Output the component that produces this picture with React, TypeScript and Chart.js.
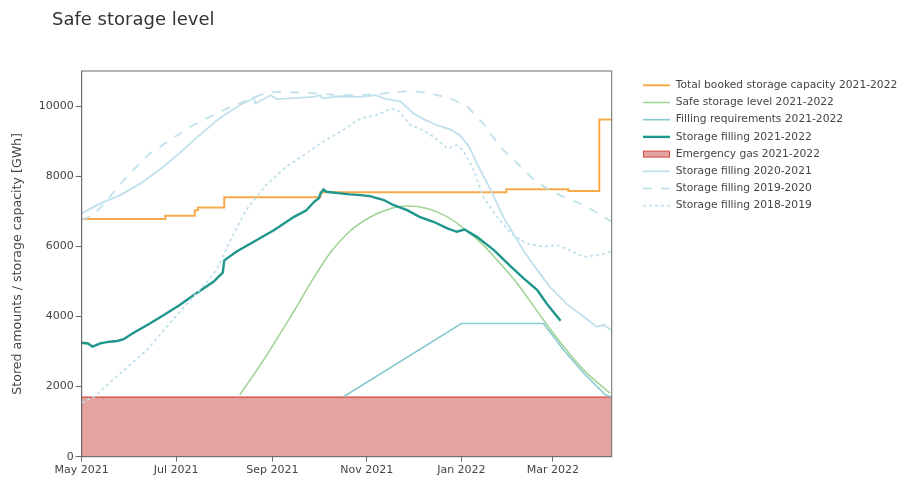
import { useEffect, useRef } from "react";
import { Chart, registerables } from "chart.js";

Chart.register(...registerables);

// ---- axis definitions (days since 1 May 2021) ----
const xTickDays = [0, 61, 123, 184, 245, 304];
const xTickLabels = ["May 2021", "Jul 2021", "Sep 2021", "Nov 2021", "Jan 2022", "Mar 2022"];
const yTickValues = [0, 2000, 4000, 6000, 8000, 10000];
const X_MIN = 0;
const X_MAX = 342;
const Y_MAX = 11000;

const chartTitle = "Safe storage level";
const yAxisTitle = "Stored amounts / storage capacity [GWh]";

// ---- series ----
const bookedDays = [0, 54, 73, 75, 92, 154, 274, 314, 334, 342];
const bookedValues = [6780, 6870, 7030, 7110, 7400, 7540, 7625, 7575, 9620, 9620];

const safeDays = [102, 119, 137, 150, 161, 173, 186, 199, 210, 223, 236, 248, 259, 270, 281, 298, 311, 324, 341];
const safeValues = [1760, 2870, 4150, 5120, 5850, 6430, 6830, 7070, 7150, 7080, 6840, 6460, 6040, 5510, 4940, 3900, 3140, 2470, 1810];

const reqDays = [169, 245, 298, 311, 324, 338, 342];
const reqValues = [1710, 3800, 3800, 3040, 2380, 1760, 1700];

const fill2122Days = [0, 4, 7, 12, 18, 23, 27, 33, 44, 53, 63, 74, 85, 91, 92, 100, 111, 124, 137, 145, 150, 153, 154, 156, 158, 167, 173, 180, 186, 195, 201, 210, 218, 227, 236, 242, 247, 255, 266, 277, 285, 294, 300, 309];
const fill2122Values = [3250, 3230, 3140, 3230, 3280, 3300, 3350, 3520, 3800, 4040, 4320, 4660, 4990, 5250, 5600, 5850, 6130, 6460, 6840, 7030, 7270, 7370, 7490, 7620, 7555, 7510, 7480, 7460, 7430, 7320, 7180, 7030, 6840, 6700, 6510, 6415, 6480, 6270, 5890, 5420, 5090, 4750, 4370, 3880];

const emergencyDays = [0, 342];
const emergencyValues = [1700, 1700];

const fill2021Days = [0, 12, 25, 38, 50, 63, 76, 89, 102, 109, 111, 112, 122, 126, 150, 154, 155, 167, 180, 190, 195, 206, 214, 221, 229, 238, 244, 250, 255, 264, 272, 281, 285, 294, 302, 313, 324, 332, 337, 339, 342];
const fill2021Values = [6940, 7225, 7460, 7795, 8175, 8650, 9170, 9650, 10030, 10170, 10260, 10075, 10310, 10200, 10260, 10310, 10220, 10280, 10260, 10310, 10220, 10120, 9790, 9620, 9460, 9330, 9170, 8840, 8365, 7600, 6840, 6180, 5890, 5320, 4850, 4350, 3990, 3710, 3755, 3690, 3610];

const fill1920Days = [0, 8, 20, 31, 44, 57, 70, 83, 96, 107, 119, 128, 150, 167, 180, 195, 212, 225, 238, 249, 259, 270, 281, 292, 302, 313, 324, 337, 342];
const fill1920Values = [6750, 6900, 7510, 8080, 8650, 9030, 9410, 9700, 9980, 10170, 10380, 10410, 10360, 10310, 10310, 10360, 10435, 10360, 10220, 9980, 9505, 8840, 8365, 7890, 7600, 7370, 7180, 6840, 6700];

const fill1819Days = [0, 8, 20, 31, 42, 55, 68, 81, 87, 93, 96, 106, 119, 132, 145, 154, 167, 180, 190, 200, 205, 212, 218, 227, 236, 242, 246, 253, 259, 268, 277, 287, 298, 307, 315, 324, 333, 342];
const fill1819Values = [1540, 1710, 2190, 2610, 3040, 3710, 4370, 4990, 5320, 5890, 6180, 7030, 7750, 8270, 8650, 8935, 9270, 9650, 9740, 9930, 9840, 9460, 9360, 9125, 8790, 8885, 8740, 8175, 7415, 6840, 6370, 6080, 5990, 6035, 5890, 5700, 5750, 5845];

const legendLabels = [
  "Total booked storage capacity 2021-2022",
  "Safe storage level 2021-2022",
  "Filling requirements 2021-2022",
  "Storage filling 2021-2022",
  "Emergency gas 2021-2022",
  "Storage filling 2020-2021",
  "Storage filling 2019-2020",
  "Storage filling 2018-2019",
];

const FONT = '"DejaVu Sans", Verdana, sans-serif';
const C_ORANGE = "rgb(247,170,72)";
const C_GREEN = "rgb(163,211,150)";
const C_REQ = "rgb(135,203,208)";
const C_TEAL = "rgb(30,150,140)";
const C_RED = "rgb(214,72,62)";
const C_PINK = "rgb(228,163,160)";
const C_PALE = "rgb(192,224,236)";

function pts(days: number[], vals: number[]) {
  return days.map((d, i) => ({ x: d, y: vals[i] }));
}

const overlayPlugin = {
  id: "overlay",
  afterDatasetsDraw(chart: any) {
    const { ctx, chartArea } = chart;
    ctx.save();
    ctx.strokeStyle = "#6b6b6b";
    ctx.lineWidth = 1;
    ctx.strokeRect(chartArea.left, chartArea.top, chartArea.right - chartArea.left, chartArea.bottom - chartArea.top);
    ctx.restore();
  },
  afterDraw(chart: any) {
    const { ctx } = chart;
    ctx.save();
    // title
    ctx.fillStyle = "#333";
    ctx.font = `18px ${FONT}`;
    ctx.textBaseline = "alphabetic";
    ctx.textAlign = "left";
    ctx.fillText(chartTitle, 52, 24.5);
    // legend
    const x0 = 643;
    const x1 = 670;
    const tx = 675.7;
    ctx.font = `10.7px ${FONT}`;
    ctx.textBaseline = "middle";
    chart.data.datasets.forEach((ds: any) => {
      const idx = legendLabels.indexOf(ds.label);
      if (idx < 0) return;
      const y = 85.3 + idx * 17.2;
      if (ds.label.startsWith("Emergency")) {
        ctx.fillStyle = C_PINK;
        ctx.fillRect(x0, y - 3, x1 - x0, 6);
        ctx.strokeStyle = C_RED;
        ctx.lineWidth = 1;
        ctx.strokeRect(x0 + 0.5, y - 3, x1 - x0 - 1, 6);
      } else {
        ctx.strokeStyle = ds.borderColor;
        ctx.lineWidth = ds.borderWidth;
        ctx.setLineDash(ds.borderDash || []);
        ctx.beginPath();
        ctx.moveTo(x0, y);
        ctx.lineTo(x1, y);
        ctx.stroke();
        ctx.setLineDash([]);
      }
      ctx.fillStyle = "#444";
      ctx.fillText(ds.label, tx, y);
    });
    ctx.restore();
  },
};

export default function App() {
  const ref = useRef<HTMLCanvasElement | null>(null);

  useEffect(() => {
    if (!ref.current) return;
    const base = { pointRadius: 0, pointHoverRadius: 0, tension: 0, fill: false };
    const chart = new Chart(ref.current, {
      type: "line",
      data: {
        datasets: [
          { ...base, label: legendLabels[0], data: pts(bookedDays, bookedValues), borderColor: C_ORANGE, borderWidth: 2, stepped: "before", order: 8 },
          { ...base, label: legendLabels[1], data: pts(safeDays, safeValues), borderColor: C_GREEN, borderWidth: 1.6, cubicInterpolationMode: "monotone", order: 7 },
          { ...base, label: legendLabels[2], data: pts(reqDays, reqValues), borderColor: C_REQ, borderWidth: 1.6, order: 6 },
          { ...base, label: legendLabels[3], data: pts(fill2122Days, fill2122Values), borderColor: C_TEAL, borderWidth: 2.4, order: 5 },
          { ...base, label: legendLabels[4], data: pts(emergencyDays, emergencyValues), borderColor: C_RED, backgroundColor: C_PINK, borderWidth: 1.4, fill: "origin", order: 100 },
          { ...base, label: legendLabels[5], data: pts(fill2021Days, fill2021Values), borderColor: C_PALE, borderWidth: 1.8, order: 3 },
          { ...base, label: legendLabels[6], data: pts(fill1920Days, fill1920Values), borderColor: C_PALE, borderWidth: 1.8, borderDash: [9, 9], order: 2 },
          { ...base, label: legendLabels[7], data: pts(fill1819Days, fill1819Values), borderColor: C_PALE, borderWidth: 1.8, borderDash: [3, 3], order: 1 },
        ] as any,
      },
      options: {
        animation: false,
        responsive: false,
        devicePixelRatio: 1,
        layout: { padding: { left: 0, top: 71, right: 292.3, bottom: 0 } },
        plugins: { legend: { display: false }, title: { display: false }, tooltip: { enabled: false } },
        scales: {
          x: {
            type: "linear",
            min: X_MIN,
            max: X_MAX,
            afterBuildTicks: (s: any) => {
              s.ticks = xTickDays.map((v) => ({ value: v }));
            },
            afterFit: (s: any) => {
              s.height = 20.3;
            },
            grid: { drawOnChartArea: false, drawTicks: true, tickLength: 5, color: "#6b6b6b" },
            border: { display: true, color: "#6b6b6b" },
            ticks: {
              autoSkip: false,
              maxRotation: 0,
              padding: 1.5,
              color: "#444",
              font: { family: FONT, size: 11 },
              callback: (v: any) => {
                const i = xTickDays.indexOf(Number(v));
                return i >= 0 ? xTickLabels[i] : "";
              },
            },
          },
          y: {
            type: "linear",
            min: 0,
            max: Y_MAX,
            afterBuildTicks: (s: any) => {
              s.ticks = yTickValues.map((v) => ({ value: v }));
            },
            afterFit: (s: any) => {
              s.width = 81.7;
            },
            grid: { drawOnChartArea: false, drawTicks: true, tickLength: 6, color: "#6b6b6b" },
            border: { display: true, color: "#6b6b6b" },
            ticks: {
              padding: 2,
              color: "#444",
              font: { family: FONT, size: 11 },
              callback: (v: any) => String(v),
            },
            title: {
              display: true,
              text: yAxisTitle,
              color: "#444",
              font: { family: FONT, size: 12.6 },
              padding: { top: 10.5, bottom: 0 },
            },
          },
        },
      },
      plugins: [overlayPlugin],
    } as any);
    return () => chart.destroy();
  }, []);

  return (
    <div style={{ position: "fixed", left: 0, top: 0, width: 904, height: 477, background: "#fff" }}>
      <canvas ref={ref} width={904} height={477} style={{ width: 904, height: 477, display: "block" }} />
    </div>
  );
}
